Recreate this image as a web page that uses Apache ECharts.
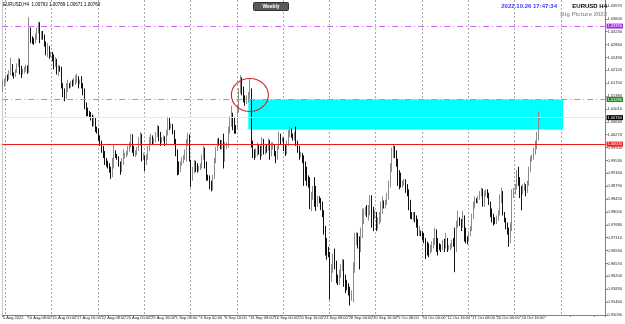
<!DOCTYPE html>
<html><head><meta charset="utf-8">
<script src="https://cdn.jsdelivr.net/npm/echarts@6/dist/echarts.min.js"></script>
<style>html,body{margin:0;padding:0;background:#fff}#c{width:625px;height:324px}</style>
</head><body><div id="c"></div>
<script>
// ---- data (EURUSD H4, 5 Aug 2022 16:00 .. 26 Oct 2022 16:00) ----
const firstOpen = 1.0165;
const closes = [
1.0172,1.0180,
1.0192,1.0188,1.0205,1.0222,1.0200,1.0195,
1.0210,1.0228,1.0240,1.0215,1.0205,1.0212,
1.0215,1.0220,1.0212,1.0320,1.0300,1.0298,
1.0295,1.0310,1.0325,1.0345,1.0305,1.0320,
1.0310,1.0290,1.0265,1.0275,1.0255,1.0258,
1.0252,1.0230,1.0240,1.0212,1.0220,1.0218,
1.0170,1.0150,1.0145,1.0165,1.0170,1.0168,
1.0175,1.0172,1.0180,1.0188,1.0192,1.0178,
1.0180,1.0170,1.0155,1.0110,1.0095,1.0088,
1.0085,1.0080,1.0060,1.0072,1.0045,1.0037,
1.0020,1.0005,0.9985,0.9975,0.9955,0.9945,
0.9940,0.9928,0.9912,0.9935,0.9975,0.9967,
0.9960,0.9945,0.9925,0.9945,0.9962,0.9968,
0.9975,0.9985,0.9995,1.0020,0.9990,0.9970,
0.9975,0.9985,1.0010,1.0020,0.9960,0.9965,
0.9945,0.9960,0.9985,1.0010,1.0020,1.0005,
1.0010,1.0025,1.0045,1.0030,1.0010,1.0013,
1.0020,1.0005,1.0030,1.0065,1.0050,1.0054,
1.0035,1.0010,0.9975,0.9935,0.9925,0.9944,
0.9955,0.9960,0.9970,1.0005,1.0025,0.9955,
0.9900,0.9920,0.9945,0.9935,0.9930,0.9930,
0.9935,0.9960,0.9985,0.9945,0.9905,0.9903,
0.9885,0.9875,0.9905,0.9950,0.9985,1.0010,
1.0005,0.9995,1.0000,0.9960,0.9990,0.9998,
1.0040,1.0070,1.0080,1.0060,1.0045,1.0040,
1.0095,1.0150,1.0185,1.0160,1.0130,1.0120,
1.0130,1.0140,1.0155,1.0000,0.9975,0.9966,
0.9975,0.9990,0.9985,0.9970,1.0010,0.9977,
0.9990,0.9985,1.0005,0.9975,0.9995,0.9999,
0.9975,0.9960,0.9990,1.0025,1.0010,1.0016,
0.9995,0.9975,1.0000,1.0030,1.0040,1.0025,
1.0020,1.0025,1.0005,0.9985,0.9970,0.9970,
0.9960,0.9945,0.9920,0.9900,0.9890,0.9836,
0.9850,0.9870,0.9855,0.9830,0.9845,0.9838,
0.9825,0.9800,0.9760,0.9720,0.9700,0.9690,
0.9620,0.9645,0.9675,0.9660,0.9615,0.9607,
0.9625,0.9645,0.9665,0.9610,0.9600,0.9592,
0.9580,0.9560,0.9575,0.9640,0.9720,0.9735,
0.9725,0.9700,0.9745,0.9790,0.9805,0.9815,
0.9800,0.9810,0.9840,0.9800,0.9790,0.9802,
0.9770,0.9780,0.9795,0.9810,0.9830,0.9826,
0.9830,0.9850,0.9885,0.9930,0.9975,0.9985,
0.9975,0.9950,0.9900,0.9895,0.9880,0.9887,
0.9890,0.9875,0.9860,0.9835,0.9800,0.9791,
0.9795,0.9785,0.9770,0.9745,0.9745,0.9740,
0.9735,0.9725,0.9710,0.9700,0.9690,0.9701,
0.9710,0.9720,0.9740,0.9725,0.9710,0.9704,
0.9700,0.9715,0.9705,0.9725,0.9700,0.9702,
0.9710,0.9720,0.9715,0.9700,0.9770,0.9779,
0.9775,0.9765,0.9780,0.9750,0.9725,0.9722,
0.9740,0.9755,0.9790,0.9825,0.9840,0.9838,
0.9845,0.9860,0.9870,0.9835,0.9855,0.9864,
0.9855,0.9830,0.9810,0.9790,0.9780,0.9777,
0.9790,0.9800,0.9845,0.9860,0.9800,0.9780,
0.9765,0.9750,0.9725,0.9760,0.9855,0.9862,
0.9880,0.9910,0.9900,0.9870,0.9865,0.9878,
0.9880,0.9870,0.9885,0.9925,0.9960,0.9965,
0.9975,0.9995,1.0020,1.0076,1.0076
];
const highs = [
1.0185,1.0188,
1.0198,1.0200,1.0212,1.0248,1.0230,1.0206,
1.0215,1.0232,1.0248,1.0245,1.0225,1.0216,
1.0222,1.0228,1.0226,1.0365,1.0335,1.0310,
1.0305,1.0318,1.0335,1.0352,1.0350,1.0325,
1.0325,1.0315,1.0295,1.0290,1.0282,1.0265,
1.0265,1.0258,1.0250,1.0245,1.0228,1.0225,
1.0222,1.0175,1.0160,1.0175,1.0185,1.0175,
1.0182,1.0185,1.0190,1.0198,1.0202,1.0195,
1.0185,1.0195,1.0175,1.0160,1.0120,1.0105,
1.0095,1.0092,1.0085,1.0082,1.0075,1.0050,
1.0045,1.0025,1.0010,0.9995,0.9980,0.9960,
0.9952,0.9945,0.9935,0.9960,0.9998,0.9982,
0.9972,0.9965,0.9950,0.9960,0.9985,0.9975,
0.9980,0.9995,1.0005,1.0030,1.0028,0.9995,
0.9982,0.9992,1.0020,1.0035,1.0030,0.9975,
0.9968,0.9970,0.9995,1.0020,1.0030,1.0025,
1.0018,1.0035,1.0055,1.0052,1.0035,1.0020,
1.0025,1.0022,1.0040,1.0079,1.0075,1.0060,
1.0058,1.0040,1.0015,0.9985,0.9950,0.9950,
0.9962,0.9968,0.9985,1.0015,1.0033,1.0028,
0.9925,0.9935,0.9955,0.9952,0.9945,0.9938,
0.9945,0.9970,0.9995,0.9990,0.9950,0.9912,
0.9910,0.9895,0.9912,0.9960,0.9992,1.0015,
1.0018,1.0012,1.0012,1.0030,1.0005,1.0005,
1.0050,1.0080,1.0110,1.0090,1.0075,1.0055,
1.0110,1.0160,1.0198,1.0192,1.0165,1.0140,
1.0140,1.0150,1.0187,1.0160,1.0010,0.9985,
0.9988,1.0005,1.0000,0.9995,1.0020,1.0015,
0.9995,0.9998,1.0017,1.0012,1.0005,1.0005,
1.0000,0.9980,0.9995,1.0036,1.0030,1.0020,
1.0018,1.0000,1.0010,1.0040,1.0050,1.0045,
1.0030,1.0035,1.0050,1.0010,0.9995,0.9978,
0.9975,0.9968,0.9950,0.9935,0.9910,0.9905,
0.9862,0.9880,0.9905,0.9880,0.9852,0.9850,
0.9845,0.9835,0.9810,0.9765,0.9730,0.9705,
0.9690,0.9655,0.9685,0.9700,0.9665,0.9625,
0.9640,0.9655,0.9670,0.9668,0.9625,0.9610,
0.9600,0.9590,0.9580,0.9660,0.9745,0.9748,
0.9745,0.9735,0.9760,0.9815,0.9815,0.9820,
0.9825,0.9825,0.9854,0.9853,0.9820,0.9810,
0.9805,0.9790,0.9805,0.9835,0.9850,0.9838,
0.9840,0.9860,0.9895,0.9945,0.9990,0.9999,
0.9995,0.9982,0.9958,0.9925,0.9918,0.9895,
0.9900,0.9899,0.9885,0.9870,0.9840,0.9805,
0.9805,0.9805,0.9795,0.9785,0.9765,0.9752,
0.9750,0.9745,0.9730,0.9720,0.9715,0.9710,
0.9720,0.9730,0.9760,0.9755,0.9730,0.9715,
0.9712,0.9725,0.9728,0.9745,0.9730,0.9710,
0.9715,0.9725,0.9730,0.9760,0.9780,0.9809,
0.9790,0.9785,0.9807,0.9795,0.9760,0.9735,
0.9750,0.9765,0.9800,0.9835,0.9850,0.9845,
0.9852,0.9865,0.9875,0.9872,0.9866,0.9870,
0.9870,0.9860,0.9835,0.9815,0.9800,0.9790,
0.9795,0.9810,0.9855,0.9875,0.9865,0.9805,
0.9788,0.9775,0.9760,0.9775,0.9870,0.9875,
0.9885,0.9925,0.9935,0.9905,0.9880,0.9885,
0.9890,0.9885,0.9895,0.9935,0.9965,0.9970,
0.9990,1.0010,1.0035,1.0094,1.0079
];
const lows = [
1.0150,1.0165,
1.0175,1.0180,1.0185,1.0198,1.0195,1.0188,
1.0193,1.0205,1.0222,1.0200,1.0190,1.0200,
1.0203,1.0208,1.0202,1.0205,1.0290,1.0288,
1.0285,1.0290,1.0300,1.0318,1.0290,1.0300,
1.0300,1.0280,1.0255,1.0250,1.0245,1.0250,
1.0238,1.0215,1.0222,1.0200,1.0195,1.0208,
1.0160,1.0135,1.0123,1.0130,1.0150,1.0160,
1.0162,1.0165,1.0168,1.0170,1.0175,1.0160,
1.0172,1.0160,1.0140,1.0100,1.0080,1.0080,
1.0078,1.0068,1.0050,1.0052,1.0035,1.0030,
1.0010,0.9995,0.9975,0.9960,0.9940,0.9935,
0.9930,0.9918,0.9900,0.9905,0.9930,0.9960,
0.9955,0.9935,0.9912,0.9920,0.9940,0.9958,
0.9962,0.9968,0.9978,0.9990,0.9975,0.9965,
0.9963,0.9968,0.9980,0.9995,0.9950,0.9955,
0.9922,0.9940,0.9955,0.9980,0.9998,0.9998,
0.9998,1.0005,1.0020,1.0008,0.9995,1.0002,
1.0008,0.9995,1.0000,1.0025,1.0040,1.0045,
1.0028,1.0000,0.9965,0.9910,0.9912,0.9920,
0.9938,0.9945,0.9955,0.9950,0.9995,0.9950,
0.9877,0.9895,0.9915,0.9920,0.9918,0.9922,
0.9925,0.9930,0.9955,0.9930,0.9895,0.9895,
0.9870,0.9864,0.9868,0.9900,0.9945,0.9980,
0.9995,0.9985,0.9985,0.9930,0.9950,0.9985,
0.9990,1.0030,1.0050,1.0040,1.0030,1.0030,
1.0040,1.0090,1.0145,1.0140,1.0120,1.0110,
1.0115,1.0120,1.0130,0.9990,0.9960,0.9955,
0.9960,0.9965,0.9970,0.9955,0.9965,0.9970,
0.9970,0.9975,0.9980,0.9955,0.9965,0.9985,
0.9965,0.9945,0.9955,0.9985,1.0000,1.0005,
0.9980,0.9966,0.9970,0.9995,1.0020,1.0018,
1.0010,1.0010,0.9995,0.9975,0.9955,0.9962,
0.9945,0.9880,0.9895,0.9880,0.9875,0.9813,
0.9807,0.9840,0.9820,0.9808,0.9820,0.9830,
0.9810,0.9790,0.9740,0.9680,0.9668,0.9675,
0.9553,0.9605,0.9630,0.9640,0.9600,0.9595,
0.9595,0.9615,0.9635,0.9590,0.9572,0.9580,
0.9565,0.9536,0.9550,0.9545,0.9630,0.9710,
0.9700,0.9640,0.9690,0.9730,0.9770,0.9795,
0.9790,0.9780,0.9795,0.9760,0.9750,0.9785,
0.9750,0.9755,0.9770,0.9775,0.9800,0.9815,
0.9815,0.9825,0.9840,0.9875,0.9920,0.9960,
0.9960,0.9935,0.9880,0.9870,0.9875,0.9875,
0.9880,0.9860,0.9850,0.9810,0.9785,0.9784,
0.9780,0.9775,0.9760,0.9736,0.9737,0.9735,
0.9725,0.9715,0.9670,0.9680,0.9675,0.9685,
0.9690,0.9700,0.9710,0.9690,0.9680,0.9695,
0.9690,0.9695,0.9690,0.9700,0.9690,0.9695,
0.9695,0.9700,0.9705,0.9632,0.9690,0.9760,
0.9765,0.9750,0.9760,0.9720,0.9715,0.9712,
0.9720,0.9735,0.9750,0.9785,0.9815,0.9830,
0.9830,0.9840,0.9850,0.9820,0.9820,0.9850,
0.9845,0.9825,0.9790,0.9775,0.9766,0.9770,
0.9770,0.9780,0.9795,0.9830,0.9795,0.9775,
0.9755,0.9740,0.9705,0.9715,0.9750,0.9845,
0.9855,0.9870,0.9880,0.9845,0.9810,0.9855,
0.9865,0.9850,0.9860,0.9880,0.9920,0.9950,
0.9955,0.9970,0.9985,1.0010,1.0067
];
const xTickLabels = ["5 Aug 2022","10 Aug 08:00","15 Aug 00:00","17 Aug 16:00","22 Aug 08:00","25 Aug 00:00","29 Aug 16:00","1 Sep 08:00","6 Sep 00:00","8 Sep 16:00","13 Sep 08:00","16 Sep 00:00","20 Sep 16:00","23 Sep 08:00","28 Sep 00:00","30 Sep 16:00","5 Oct 08:00","10 Oct 00:00","12 Oct 16:00","17 Oct 08:00","20 Oct 00:00","24 Oct 16:00"];
const barsPerLabel = 16;
const barsPerWeek = 30, firstMondayIdx = 2;
const totalSlots = 391;           // bars + empty right margin
const purpleLevel = 1.0339, greenLevel = 1.0128, parityLevel = 1.0000, lastPrice = 1.0076;
const zoneTop = 1.0128, zoneBottom = 1.0042, zoneStartIdx = 159, zoneEndIdx = 363;
const circleIdx = 160, circlePrice = 1.0141;
const headerText = "EURUSD,H4  1.00763 1.00789 1.00671 1.00760";
const yMin = 0.9509, yMax = 1.0414, yStep = 0.0037;

// ---- build ----
const cats = [];
for (let i = 0; i < totalSlots; i++) cats.push(String(i));
const ohlc = [];
let prev = firstOpen;
for (let i = 0; i < closes.length; i++) {
  const o = prev, c = closes[i];
  const h = Math.max(highs[i], o, c), l = Math.min(lows[i], o, c);
  ohlc.push([o, c, l, h]);
  prev = c;
}
const FONT = 'Liberation Sans, Arial, sans-serif';
const chart = echarts.init(document.getElementById('c'), null, {renderer: 'canvas'});
function lvlLine(v, color, type, bg) {
  return {
    yAxis: v,
    lineStyle: {color: color, type: type, width: 1},
    label: {show: true, position: 'end', distance: 1, formatter: v.toFixed(5),
      color: '#fff', backgroundColor: bg, fontSize: 4, fontFamily: FONT, padding: [1, 1, 0, 1]}
  };
}
chart.setOption({
  animation: false,
  backgroundColor: '#fff',
  grid: {left: 1, right: 17, top: 0, bottom: 9},
  xAxis: {
    type: 'category', data: cats, boundaryGap: true,
    axisLine: {show: true, lineStyle: {color: '#808080'}},
    axisTick: {show: true, length: 2, interval: i => i % barsPerLabel === 0, lineStyle: {color: '#808080'}},
    axisLabel: {show: true, interval: i => i % barsPerLabel === 0, align: 'left', margin: 1,
      fontSize: 4, fontFamily: FONT, color: '#222',
      formatter: (v, i) => xTickLabels[i / barsPerLabel] || ''},
    splitLine: {show: true, interval: i => i >= firstMondayIdx && (i - firstMondayIdx) % barsPerWeek === 0,
      lineStyle: {color: '#a8a8a8', type: [2, 2], width: 1}}
  },
  yAxis: [{
    type: 'value', position: 'right', min: yMin, max: yMax, interval: yStep, scale: true,
    axisLine: {show: true, lineStyle: {color: '#808080'}},
    axisTick: {show: true, length: 2, lineStyle: {color: '#808080'}},
    axisLabel: {fontSize: 4, fontFamily: FONT, color: '#222', margin: 2, showMaxLabel: false,
      formatter: v => v.toFixed(5)},
    splitLine: {show: false}
  }, {
    type: 'value', position: 'left', min: yMin, max: yMax,
    axisLine: {show: true, lineStyle: {color: '#c8c8c8'}},
    axisTick: {show: false}, axisLabel: {show: false}, splitLine: {show: false}
  }],
  series: [{
    type: 'candlestick', data: ohlc, barWidth: 1.1,
    itemStyle: {color: '#8c8c8c', color0: '#111', borderColor: '#8c8c8c', borderColor0: '#111', borderWidth: 1},
    markArea: {silent: true, itemStyle: {color: '#00ffff', opacity: 1},
      data: [[{xAxis: zoneStartIdx, yAxis: zoneTop}, {xAxis: zoneEndIdx, yAxis: zoneBottom}]]},
    markLine: {silent: true, symbol: 'none', precision: 5,
      data: [
        lvlLine(purpleLevel, '#cc66ee', [6, 3, 1, 3], '#a030e0'),
        lvlLine(greenLevel, '#77bb77', [6, 3, 1, 3], '#1e8c1e'),
        lvlLine(parityLevel, '#e81c1c', 'solid', '#ff1a1a'),
        lvlLine(lastPrice, '#e8e8e8', 'solid', '#000')
      ]}
  }]
});
const p = chart.convertToPixel({xAxisIndex: 0, yAxisIndex: 0}, [circleIdx, circlePrice]);
chart.setOption({
  graphic: [
    {type: 'circle', x: p[0], y: p[1], scaleY: 16.5 / 18.5, shape: {cx: 0, cy: 0, r: 18.5},
      style: {fill: 'none', stroke: '#d02828', lineWidth: 1.1}, z: 10},
    {type: 'text', left: 3, top: 2, style: {text: headerText, fontSize: 4.5, fontFamily: FONT, fill: '#000'}, z: 10},
    {type: 'group', left: 253, top: 2, z: 10, children: [
      {type: 'rect', shape: {x: 0, y: 0, width: 35, height: 8, r: 1}, style: {fill: '#5a5a5a', stroke: '#333'}},
      {type: 'text', x: 17.5, y: 4, style: {text: 'Weekly', fontSize: 5, fontWeight: 'bold', fontFamily: FONT, fill: '#fff', align: 'center', verticalAlign: 'middle'}}
    ]},
    {type: 'text', x: 557, y: 3, z: 10, style: {text: '2022.10.26 17:47:34', fontSize: 6, fontWeight: 'bold', fontFamily: FONT, fill: '#3a3aff', align: 'right'}},
    {type: 'text', x: 607, y: 3, z: 10, style: {text: 'EURUSD H4', fontSize: 6, fontWeight: 'bold', fontFamily: FONT, fill: '#000', align: 'right'}},
    {type: 'text', x: 607, y: 11, z: 10, style: {text: 'Big Picture 2022', fontSize: 6, fontWeight: 'bold', fontFamily: FONT, fill: '#9a9a9a', align: 'right'}}
  ]
});
</script></body></html>
